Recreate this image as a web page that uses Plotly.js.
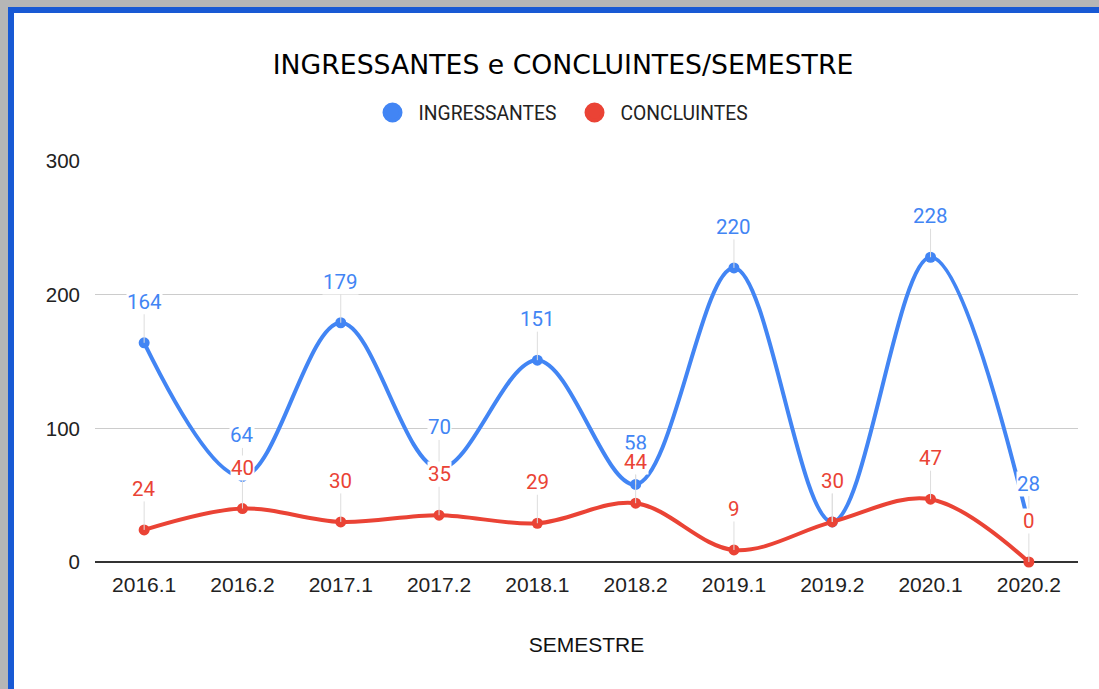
<!DOCTYPE html>
<html>
<head>
<meta charset="utf-8">
<script src="https://cdn.plot.ly/plotly-3.0.1.min.js"></script>
<style>
  html, body { margin: 0; padding: 0; background: #ffffff; }
  #chart { position: absolute; left: 0; top: 0; width: 1099px; height: 689px; }
  .ov { position: absolute; pointer-events: none; }
</style>
</head>
<body>
<div id="chart"></div>
<div class="ov" style="left:0;top:0;width:1099px;height:7px;background:#b6b6b6;"></div>
<div class="ov" style="left:0;top:0;width:8px;height:689px;background:#b6b6b6;"></div>
<div class="ov" style="left:8px;top:7px;width:1091px;height:6px;background:#1859d4;"></div>
<div class="ov" style="left:8px;top:7px;width:6px;height:682px;background:#1859d4;"></div>
<script>
const semesters = ["2016.1","2016.2","2017.1","2017.2","2018.1","2018.2","2019.1","2019.2","2020.1","2020.2"];
const ingressantes = [164, 64, 179, 70, 151, 58, 220, 30, 228, 28];
const concluintes = [24, 40, 30, 35, 29, 44, 9, 30, 47, 0];
const yTicks = [0, 100, 200, 300];

const BLUE = "#4285f4";
const RED = "#ea4335";
const idx = semesters.map((s, i) => i);

const traces = [
  { type: "scatter", mode: "lines+markers", name: "INGRESSANTES", x: idx, y: ingressantes,
    line: { color: BLUE, width: 4, shape: "spline", smoothing: 1 },
    marker: { color: BLUE, size: 11 }, showlegend: false, cliponaxis: false },
  { type: "scatter", mode: "lines+markers", name: "CONCLUINTES", x: idx, y: concluintes,
    line: { color: RED, width: 4, shape: "spline", smoothing: 1 },
    marker: { color: RED, size: 11 }, showlegend: false, cliponaxis: false },
  { type: "scatter", mode: "markers", name: "INGRESSANTES", x: [null], y: [null],
    marker: { color: BLUE, size: 16, line: { color: BLUE, width: 4 } }, showlegend: true },
  { type: "scatter", mode: "markers", name: "CONCLUINTES", x: [null], y: [null],
    marker: { color: RED, size: 16, line: { color: RED, width: 4 } }, showlegend: true }
];

function labels(vals, color) {
  return vals.map((v, i) => ({
    x: idx[i], y: v, xref: "x", yref: "y",
    text: String(v), showarrow: true, arrowhead: 0, arrowwidth: 1, arrowcolor: "#dddddd",
    ax: 0, ay: -41,
    bgcolor: "#ffffff", borderpad: 0,
    font: { family: "Roboto, Arial, sans-serif", size: 20.5, color: color }
  }));
}

const layout = {
  width: 1099, height: 689,
  margin: { l: 95, r: 21, t: 161, b: 127 },
  paper_bgcolor: "#ffffff", plot_bgcolor: "#ffffff",
  title: { text: "INGRESSANTES e CONCLUINTES/SEMESTRE", xref: "container", x: 0.5123, xanchor: "center",
           yref: "container", y: 1 - 65/689, yanchor: "middle",
           font: { family: "DejaVu Sans, sans-serif", size: 26.7, color: "#000000" } },
  showlegend: true,
  legend: { orientation: "h", x: 0.4817, xanchor: "center", y: 1.1197, yanchor: "middle",
            itemwidth: 42, entrywidth: 145, entrywidthmode: "pixels",
            font: { family: "Roboto, Arial, sans-serif", size: 19.3, color: "#222222" },
            itemclick: false, itemdoubleclick: false },
  xaxis: { type: "linear", range: [-0.5, 9.5], tickvals: idx, ticktext: semesters,
           showgrid: false, zeroline: false,
           showline: false, ticks: "", ticklabelstandoff: 8,
           tickfont: { family: "Liberation Sans, Arial, sans-serif", size: 21, color: "#222222" },
           title: { text: "SEMESTRE", standoff: 42, font: { family: "Liberation Sans, Arial, sans-serif", size: 21, color: "#111111" } },
           fixedrange: true },
  yaxis: { range: [0, 300], tickvals: yTicks, ticktext: yTicks.map(String),
           showgrid: true, gridcolor: "#cccccc", gridwidth: 1,
           zeroline: true, zerolinecolor: "#333333", zerolinewidth: 1.5,
           showline: false, ticks: "", ticklabelstandoff: 14,
           tickfont: { family: "Liberation Sans, Arial, sans-serif", size: 20.5, color: "#222222" },
           fixedrange: true },
  annotations: labels(ingressantes, BLUE).concat(labels(concluintes, RED)),
  hovermode: false
};

Plotly.newPlot("chart", traces, layout, { displayModeBar: false, staticPlot: true });
</script>
</body>
</html>
